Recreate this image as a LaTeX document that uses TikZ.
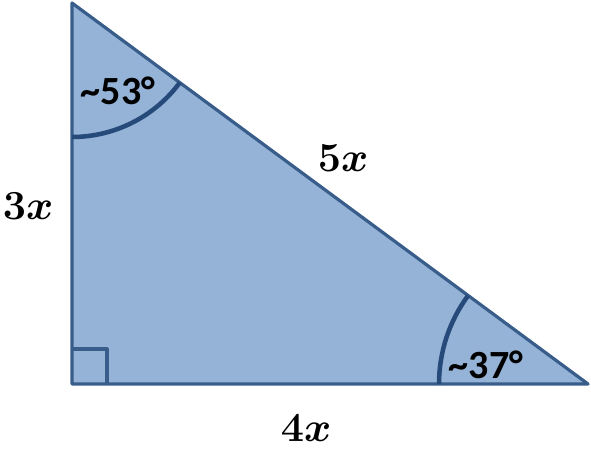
\documentclass[tikz,border=0pt]{standalone}
\usepackage{fix-cm}
\usepackage{fontspec}
\newfontfamily\calibri{Carlito}
\definecolor{triFill}{RGB}{149,179,215}
\definecolor{triEdge}{RGB}{56,93,138}
\definecolor{arcBlue}{RGB}{38,74,122}
\tikzset{every picture/.style={line width=0.75pt}}
\tikzset{
  edge/.style={draw=triEdge,line width=2.4pt,line join=round},
  anglearc/.style={draw=arcBlue,line width=3.4pt},
  anglelbl/.style={inner sep=0.75pt,font=\calibri\bfseries\fontsize{30}{32}\selectfont},
  sidelbl/.style={inner sep=0.75pt,font=\fontsize{31}{33}\selectfont\boldmath}
}
\begin{document}
\begin{tikzpicture}[x=0.75pt,y=0.75pt,yscale=-1,xscale=1]
\useasboundingbox (0,0) rectangle (591,459);
%Vertices
\coordinate (A) at (72,3);
\coordinate (B) at (72,384);
\coordinate (C) at (588,384);
%Shape: Triangle
\fill[triFill] (A) -- (B) -- (C) -- cycle;
%Shape: Right angle
\draw[edge] (B) ++(0,-35) -- ++(35,0) -- ++(0,35);
%Shape: Triangle outline
\draw[edge] (A) -- (B) -- (C) -- cycle;
%Shape: Arc
\draw[anglearc] (A) ++(90:134) arc (90:36.4:134);
%Shape: Arc
\draw[anglearc] (C) ++(180:149) arc (180:216.4:149);

% Text Node
\node[anglelbl] (ang53) at (118,91) {\char126 53°};
% Text Node
\node[anglelbl] (ang37) at (486,365) {\char126 37°};
% Text Node
\node[sidelbl] (side3) at (28,206) {$3x$};
% Text Node
\node[sidelbl] (side5) at (343,158) {$5x$};
% Text Node
\node[sidelbl] (side4) at (306,428) {$4x$};
\end{tikzpicture}
\end{document}
